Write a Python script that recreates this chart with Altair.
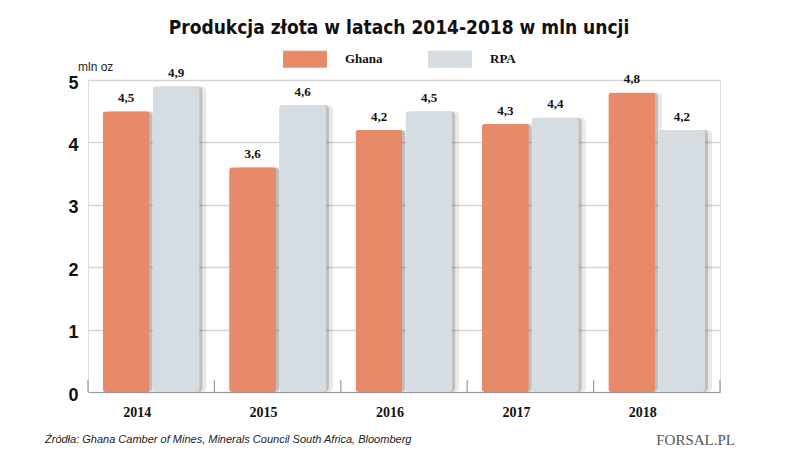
import altair as alt
import pandas as pd

years = ["2014", "2015", "2016", "2017", "2018"]
ghana = [4.5, 3.6, 4.2, 4.3, 4.8]
rpa = [4.9, 4.6, 4.5, 4.4, 4.2]
series = ["Ghana", "RPA"]
colors = ["#E8896A", "#D5DCE2"]

rows = []
for i, y in enumerate(years):
    rows.append({"year": y, "series": "Ghana", "value": ghana[i]})
    rows.append({"year": y, "series": "RPA", "value": rpa[i]})
df = pd.DataFrame(rows)
df["label"] = df["value"].map(lambda v: f"{v:.1f}".replace(".", ","))

ticks_df = pd.DataFrame({"year": years})

W, H = 632, 312
STEP = W / len(years)


def off_scale(shift):
    return alt.Scale(type="band", domain=series, paddingInner=0.06, paddingOuter=0.294,
                     range=[shift, STEP + shift])


xscale = alt.Scale(domain=years, paddingInner=0, paddingOuter=0)
offscale = off_scale(0)
yscale = alt.Scale(domain=[0, 5], nice=False)
cscale = alt.Scale(domain=series, range=colors)

sym = "M-1,-0.386 L1,-0.386 L1,0.386 L-1,0.386 Z"

base = alt.Chart(df)


def shadow_layer(shift, drop, op):
    return base.mark_bar(cornerRadius=5, color="#2a2a2a", opacity=op).encode(
        x=alt.X("year:N", scale=xscale, sort=years),
        xOffset=alt.XOffset("series:N", scale=off_scale(shift)),
        y=alt.Y("value:Q", scale=yscale),
        y2=alt.value(H + drop),
    )


shadow_far = shadow_layer(7, 10, 0.10)
shadow_near = shadow_layer(3, 6, 0.22)

bars = base.mark_bar(cornerRadius=3).encode(
    x=alt.X("year:N", scale=xscale, sort=years,
            axis=alt.Axis(title=None, labelAngle=0, ticks=False,
                          labelFont="Liberation Serif", labelFontWeight="bold",
                          labelFontSize=14, labelColor="#111", labelPadding=20,
                          domainColor="#9a9a9a", domainWidth=1.2)),
    xOffset=alt.XOffset("series:N", scale=offscale),
    y=alt.Y("value:Q", scale=yscale,
            axis=alt.Axis(title=None, values=[0, 1, 2, 3, 4, 5], format="d",
                          ticks=False, domain=False, grid=True,
                          gridColor="#d6d6d6", gridWidth=1.5,
                          labelFont="Liberation Sans", labelFontWeight="bold",
                          labelFontSize=18, labelColor="#111", labelPadding=10,
                          labelOffset=3)),
    color=alt.Color("series:N", scale=cscale,
                    legend=alt.Legend(title=None, orient="none", direction="horizontal",
                                      legendX=195, legendY=-43,
                                      symbolType=sym, symbolSize=1936,
                                      symbolStrokeWidth=0, symbolOpacity=1,
                                      labelFont="Liberation Serif", labelFontWeight="bold",
                                      labelFontSize=13, labelColor="#111",
                                      labelOffset=18, columnPadding=45)),
)

labels = base.mark_text(dy=-13, font="Liberation Serif", fontWeight="bold",
                        fontSize=13, color="#111").encode(
    x=alt.X("year:N", scale=xscale, sort=years),
    xOffset=alt.XOffset("series:N", scale=offscale),
    y=alt.Y("value:Q", scale=yscale),
    text="label:N",
)

tick_rules = alt.Chart(ticks_df).mark_rule(color="#9a9a9a", strokeWidth=1.2).encode(
    x=alt.X("year:N", scale=xscale, sort=years, bandPosition=0),
    y=alt.value(H - 12),
    y2=alt.value(H),
)
end_tick = alt.Chart(ticks_df.tail(1)).mark_rule(color="#9a9a9a", strokeWidth=1.2).encode(
    x=alt.X("year:N", scale=xscale, sort=years, bandPosition=1),
    y=alt.value(H - 12),
    y2=alt.value(H),
)

title = alt.Chart(ticks_df.head(1)).mark_text(
    text="Produkcja złota w latach 2014-2018 w mln uncji",
    font="DejaVu Sans Condensed", fontWeight="bold", fontSize=19, color="#111",
    align="center", baseline="middle").encode(x=alt.value(311), y=alt.value(-52))

unit = alt.Chart(ticks_df.head(1)).mark_text(
    text="mln oz", font="Liberation Sans", fontSize=12, color="#222",
    align="left", baseline="middle").encode(x=alt.value(-10), y=alt.value(-13))

source = alt.Chart(ticks_df.head(1)).mark_text(
    text="Źródła: Ghana Camber of Mines, Minerals Council South Africa, Bloomberg",
    font="Liberation Sans", fontStyle="italic", fontSize=11, color="#222",
    align="left", baseline="middle").encode(x=alt.value(-43), y=alt.value(H + 48))

logo = alt.Chart(ticks_df.head(1)).mark_text(
    text="FORSAL.PL", font="Liberation Serif", fontSize=15, color="#555",
    align="right", baseline="middle").encode(x=alt.value(W + 15), y=alt.value(H + 48))

chart = alt.layer(shadow_far, shadow_near, bars, labels, tick_rules, end_tick,
                  title, unit, source, logo).resolve_scale(
    xOffset="independent"
).properties(
    width=W, height=H,
    autosize=alt.AutoSizeParams(type="none"),
    padding={"left": 80, "top": 72, "right": 60, "bottom": 67},
).configure_view(stroke=None).configure(background="white")

chart.save("out.html", embed_options={"renderer": "svg", "actions": False})
